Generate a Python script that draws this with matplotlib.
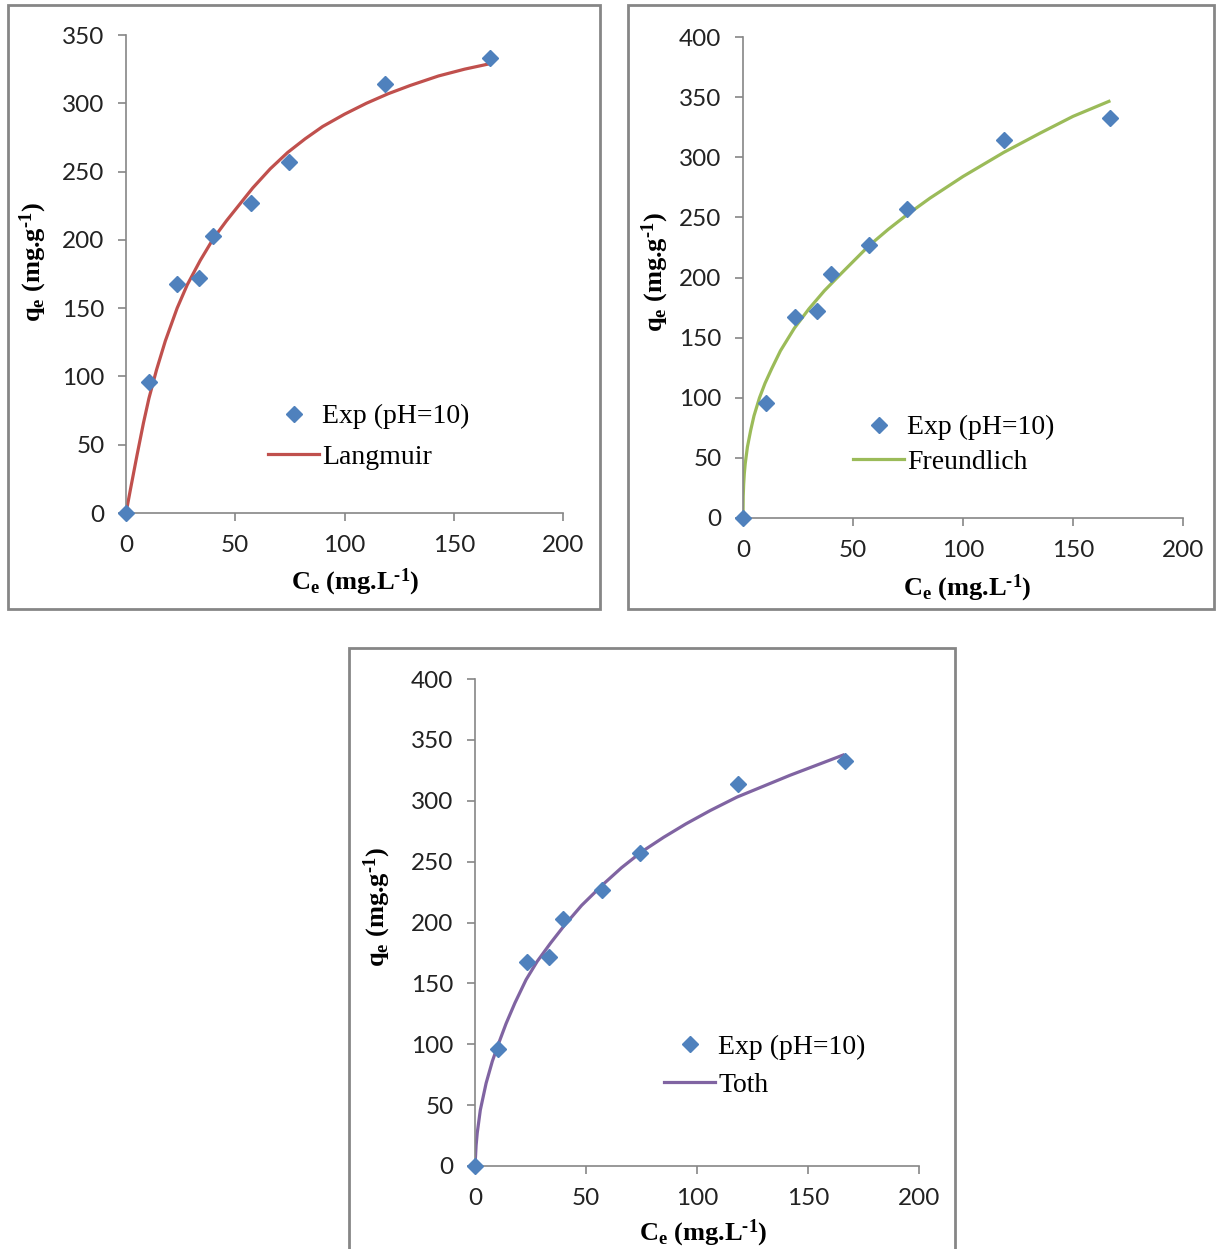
import matplotlib
matplotlib.use("Agg")
import matplotlib.pyplot as plt
from matplotlib.lines import Line2D
from matplotlib.patches import Rectangle

plt.rcParams["mathtext.fontset"] = "custom"
plt.rcParams["mathtext.rm"] = "Liberation Serif:bold"
plt.rcParams["mathtext.bf"] = "Liberation Serif:bold"
plt.rcParams["mathtext.default"] = "bf"

# Experimental isotherm at pH 10
ce_exp = [0, 10.5, 23.5, 33.5, 39.8, 57.4, 74.4, 118.6, 166.6]
qe_exp = [0, 96, 167.5, 172, 203, 227, 257, 314, 333]

# Model curves
lang_c = [0, 2, 5, 8, 10.5, 14, 18, 23.4, 28, 34, 40, 46, 52, 58, 66, 74, 82, 90,
          100, 110, 120, 130, 143, 155, 166.6]
lang_q = [0, 17, 42, 66, 84, 105, 126, 150, 167, 185, 201, 214, 226, 238, 252, 264,
          274, 283, 292, 300, 307, 313, 320, 325, 329]

freu_c = [0, 0.1, 0.3, 0.6, 1, 2, 3.5, 5, 7.5, 10, 13, 17, 23.4, 30, 37, 45, 57, 66,
          74.4, 85, 100, 118.5, 135, 150, 167]
freu_q = [0, 18, 28, 37, 45, 59, 73, 85, 100, 112, 124, 139, 158, 174, 189, 204, 226,
          240, 252, 266, 284, 304, 320, 334, 347]

toth_c = [0, 0.5, 1, 2.4, 5, 7.8, 10.5, 14, 18, 23, 28, 34, 40, 48, 57.5, 66, 75, 85,
          95, 106, 118, 130, 142, 155, 166.5]
toth_q = [0, 17, 27, 46, 68, 86, 100, 117, 134, 153, 168, 183, 197, 214, 231, 245, 258,
          270, 281, 292, 303, 312, 321, 330, 338]

x_ticks = [0, 50, 100, 150, 200]

W, H = 1216, 1249
BLUE = "#4F81BD"
GRAY = "#868686"

fig = plt.figure(figsize=(W / 100, H / 100), dpi=100)


def px_axes(left, top, right, bottom):
    return fig.add_axes([left / W, 1 - bottom / H, (right - left) / W, (bottom - top) / H])


def frame(x0, y0, x1, y1):
    fig.patches.append(Rectangle((x0 / W, 1 - y1 / H), (x1 - x0) / W, (y1 - y0) / H,
                                 transform=fig.transFigure, fill=False,
                                 edgecolor=GRAY, linewidth=2))


def panel(box, frame_box, ymax, curve_c, curve_q, color, name, xlab_pos, ylab_pos,
          leg_pos, leg_spacing):
    frame(*frame_box)
    ax = px_axes(*box)
    ax.patch.set_alpha(0)
    ax.plot(curve_c, curve_q, color=color, linewidth=2.3, solid_capstyle="butt",
            solid_joinstyle="round", zorder=2)
    ax.plot(ce_exp, qe_exp, linestyle="none", marker="D", markersize=8,
            color=BLUE, zorder=3, clip_on=False)
    ax.set_xlim(0, 200)
    ax.set_ylim(0, ymax)
    ax.set_xticks(x_ticks)
    ax.set_yticks(range(0, ymax + 1, 50))
    for side in ("top", "right"):
        ax.spines[side].set_visible(False)
    for side in ("left", "bottom"):
        ax.spines[side].set_color(GRAY)
        ax.spines[side].set_linewidth(1.2)
    ax.tick_params(direction="out", length=5.5, width=1.2, color=GRAY,
                   labelsize=17.5, labelcolor="#222222", pad=10)
    for lab in ax.get_xticklabels() + ax.get_yticklabels():
        lab.set_family("Lato")

    label_font = {"family": "Liberation Serif", "weight": "bold", "size": 19}
    fig.text(xlab_pos[0] / W, 1 - xlab_pos[1] / H, r"C$_e$ (mg.L$^{\text{-}1}$)",
             ha="center", va="baseline", **label_font)
    fig.text(ylab_pos[0] / W, 1 - ylab_pos[1] / H, r"q$_e$ (mg.g$^{\text{-}1}$)",
             ha="center", va="center", rotation=90, **label_font)

    handles = [
        Line2D([], [], linestyle="none", marker="D", markersize=8, color=BLUE),
        Line2D([], [], color=color, linewidth=2.3),
    ]
    ax.legend(handles, ["Exp (pH=10)", name], loc="center left",
              bbox_to_anchor=(leg_pos[0] / W, 1 - leg_pos[1] / H),
              bbox_transform=fig.transFigure, frameon=False, borderpad=0,
              borderaxespad=0, handlelength=1.85, handletextpad=0.1,
              labelspacing=leg_spacing,
              prop={"family": "Liberation Serif", "size": 20})
    return ax


panel((126, 35, 563, 513), (8, 5, 600, 609), 350, lang_c, lang_q, "#C0504D",
      "Langmuir", (355, 589), (33, 262), (268, 437), 0.55)
panel((743, 37, 1183, 518), (628, 5, 1214, 609), 400, freu_c, freu_q, "#9BBB59",
      "Freundlich", (967, 595), (655, 272), (853, 445), 0.33)
panel((475, 679, 919, 1166), (349, 648, 955, 1262), 400, toth_c, toth_q, "#8064A2",
      "Toth", (703, 1240), (377, 907), (664, 1066), 0.45)

fig.savefig("out.png", dpi=100, facecolor="white")
